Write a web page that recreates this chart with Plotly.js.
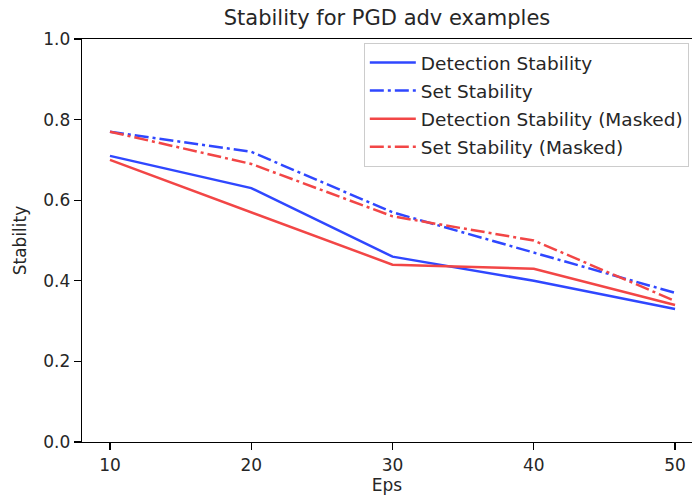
<!DOCTYPE html>
<html>
<head>
<meta charset="utf-8">
<script src="https://cdn.plot.ly/plotly-3.0.1.min.js"></script>
<style>html,body{margin:0;padding:0;background:#fff;}#chart{width:692px;height:500px;}</style>
</head>
<body>
<div id="chart"></div>
<script>
const eps = [10, 20, 30, 40, 50];
const detectionStability = [0.71, 0.63, 0.46, 0.40, 0.33];
const setStability = [0.77, 0.72, 0.57, 0.47, 0.37];
const detectionStabilityMasked = [0.70, 0.57, 0.44, 0.43, 0.34];
const setStabilityMasked = [0.77, 0.69, 0.56, 0.50, 0.35];
const yTicks = [0, 0.2, 0.4, 0.6, 0.8, 1.0];
const yTickLabels = ['0.0', '0.2', '0.4', '0.6', '0.8', '1.0'];

const BLUE = '#2f47ff';
const RED = '#f24646';
const DASHDOT = '14px,4px,3px,4px';
const W = 2.5;

const traces = [
  {x: eps, y: detectionStability, name: 'Detection Stability', legendgroup: 'a', mode: 'lines', line: {color: BLUE, width: W}},
  {x: eps, y: setStability, name: 'Set Stability', legendgroup: 'b', mode: 'lines', line: {color: BLUE, width: W, dash: DASHDOT}},
  {x: eps, y: detectionStabilityMasked, name: 'Detection Stability (Masked)', legendgroup: 'c', mode: 'lines', line: {color: RED, width: W}},
  {x: eps, y: setStabilityMasked, name: 'Set Stability (Masked)', legendgroup: 'd', mode: 'lines', line: {color: RED, width: W, dash: DASHDOT}}
];

const FONT = 'DejaVu Sans, sans-serif';
const layout = {
  width: 692, height: 500,
  margin: {l: 82, r: 0, t: 39, b: 58, pad: 0},
  paper_bgcolor: '#fff', plot_bgcolor: '#fff',
  font: {family: FONT, size: 17, color: '#262626'},
  title: {text: 'Stability for PGD adv examples', font: {family: FONT, size: 21, color: '#262626'},
          x: 0.5, xref: 'paper', xanchor: 'center', y: 0.964, yref: 'container', yanchor: 'middle'},
  showlegend: true,
  legend: {x: 0.462, y: 0.99, xanchor: 'left', yanchor: 'top', itemwidth: 46, tracegroupgap: 1,
           bgcolor: 'rgba(255,255,255,0.8)', bordercolor: '#cccccc', borderwidth: 1,
           font: {family: FONT, size: 18.5, color: '#262626'}},
  xaxis: {
    range: [8.02, 51.2], tickvals: eps, ticktext: eps.map(String),
    showgrid: false, zeroline: false, showline: true, linecolor: '#000', linewidth: 1.3, mirror: true,
    ticks: 'outside', ticklen: 7, tickwidth: 1.3, tickcolor: '#000',
    tickfont: {family: FONT, size: 17, color: '#262626'},
    title: {text: 'Eps', font: {family: FONT, size: 17, color: '#262626'}, standoff: 5}
  },
  yaxis: {
    range: [0, 1], tickvals: yTicks, ticktext: yTickLabels,
    showgrid: false, zeroline: false, showline: true, linecolor: '#000', linewidth: 1.3,
    ticks: 'outside', ticklen: 7, tickwidth: 1.3, tickcolor: '#000',
    tickfont: {family: FONT, size: 17, color: '#262626'},
    title: {text: 'Stability', font: {family: FONT, size: 17, color: '#262626'}, standoff: 12}
  }
};

Plotly.newPlot('chart', traces, layout, {displayModeBar: false, staticPlot: true});
</script>
</body>
</html>
